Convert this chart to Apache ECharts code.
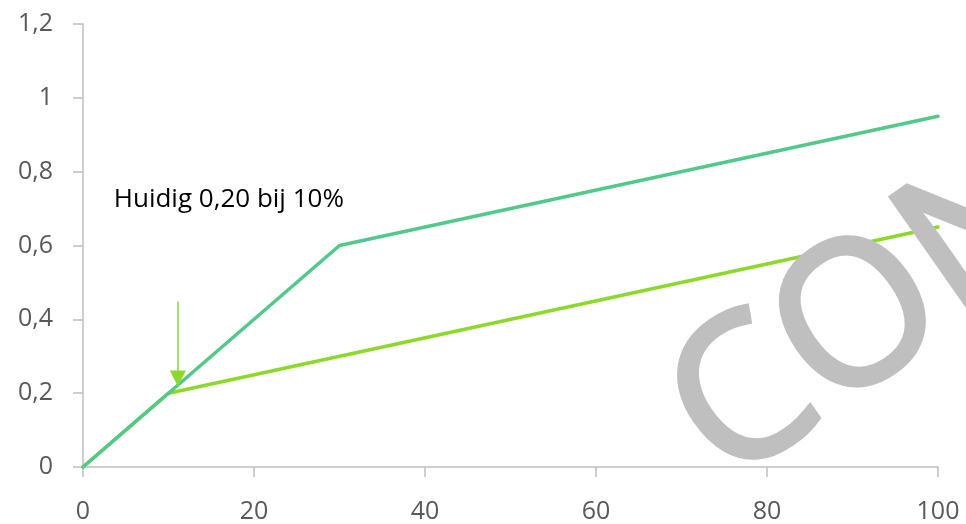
<!DOCTYPE html>
<html>
<head>
<meta charset="utf-8">
<script src="https://cdn.jsdelivr.net/npm/echarts@6/dist/echarts.min.js"></script>
<style>html,body{margin:0;padding:0;background:#fff}#c{width:966px;height:524px}</style>
</head>
<body>
<div id="c"></div>
<script>
var xTicks = [0, 20, 40, 60, 80, 100];
var yTicks = [0, 0.2, 0.4, 0.6, 0.8, 1, 1.2];
var tealSeries = [[0, 0], [30, 0.6], [100, 0.95]];
var limeSeries = [[0, 0], [10, 0.2], [100, 0.65]];
var annotationText = 'Huidig 0,20 bij 10%';
var arrowFrom = [11.1, 0.448];
var arrowTo = [11.1, 0.24];
var labelAt = [3.6, 0.725];
var watermark = 'CONFIDENTIAL';

var chart = echarts.init(document.getElementById('c'));
var fmt = function (v) { return String(v).replace('.', ','); };
chart.setOption({
  animation: false,
  grid: { left: 83, right: 28, top: 24, bottom: 56, containLabel: false },
  xAxis: {
    type: 'value', min: 0, max: 100, interval: 20,
    axisLine: { show: true, lineStyle: { color: '#bfbfbf', width: 1.5 } },
    axisTick: { show: true, length: 10, lineStyle: { color: '#bfbfbf', width: 1.5 } },
    splitLine: { show: false },
    axisLabel: { color: '#595959', fontSize: 25, fontFamily: 'Open Sans', margin: 32, formatter: fmt }
  },
  yAxis: {
    type: 'value', min: 0, max: 1.2, interval: 0.2,
    axisLine: { show: true, lineStyle: { color: '#bfbfbf', width: 1.5 } },
    axisTick: { show: true, length: 10, lineStyle: { color: '#bfbfbf', width: 1.5 } },
    splitLine: { show: false },
    axisLabel: { color: '#595959', fontSize: 25, fontFamily: 'Open Sans', margin: 30, formatter: fmt }
  },
  series: [
    {
      type: 'line', data: limeSeries, symbol: 'none', z: 2,
      lineStyle: { color: '#8cd92c', width: 3.5, cap: 'round' },
      markLine: {
        silent: true, symbol: ['none', 'triangle'], symbolSize: [16, 16],
        lineStyle: { color: '#8cd92c', width: 1.5, type: 'solid' },
        label: { show: false },
        data: [[{ coord: arrowFrom }, { coord: arrowTo }]]
      },
      markPoint: {
        silent: true, symbolSize: 0,
        label: { show: true, position: 'right', distance: 0, color: '#000', fontSize: 26, fontFamily: 'Open Sans', formatter: annotationText },
        data: [{ coord: labelAt }]
      }
    },
    {
      type: 'line', data: tealSeries, symbol: 'none', z: 3,
      lineStyle: { color: '#52c98b', width: 3.5, cap: 'round' }
    }
  ],
  graphic: [{
    type: 'text', z: 100, x: 694, y: 440, rotation: 35 * Math.PI / 180,
    style: { text: watermark, fill: '#bfbfbf', stroke: '#bfbfbf', lineWidth: 5, lineJoin: 'round', fontSize: 200, fontFamily: 'Open Sans', align: 'left', verticalAlign: 'middle' }
  }]
});
</script>
</body>
</html>
